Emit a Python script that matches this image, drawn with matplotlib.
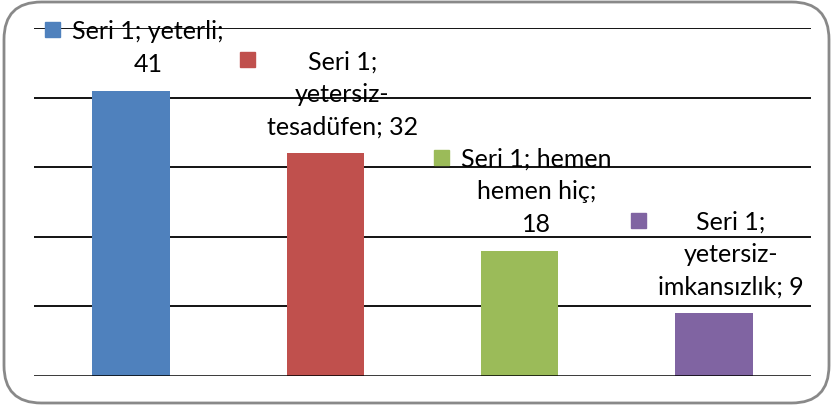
import matplotlib
matplotlib.use('Agg')
import matplotlib.pyplot as plt
from matplotlib.patches import FancyBboxPatch, Rectangle

series_name = 'Seri 1'
categories = ['yeterli', 'yetersiz-\ntesadüfen', 'hemen\nhemen hiç', 'yetersiz-\nimkansızlık']
values = [41, 32, 18, 9]
colors = ['#4F81BD', '#C0504D', '#9BBB59', '#8064A2']
# how each data label wraps
label_fmt = ['{s}; {c};\n{v}', '{s};\n{c}; {v}', '{s}; {c};\n{v}', '{s};\n{c}; {v}']

plt.rcParams['font.family'] = ['Lato', 'DejaVu Sans']

W, H = 831, 408
fig = plt.figure(figsize=(W / 100, H / 100), dpi=100)
ax = fig.add_axes([34 / W, 32 / H, 777 / W, 348 / H])

x = range(len(values))
ax.bar(x, values, width=0.4, color=colors, zorder=3)

ax.set_xlim(-0.5, 3.5)
ax.set_ylim(0, 50)
for y in range(10, 51, 10):
    ax.axhline(y, color='black', lw=1.3, zorder=2)
ax.axhline(0, color='black', lw=1.8, zorder=4)
for s in ax.spines.values():
    s.set_visible(False)
ax.set_xticks([])
ax.set_yticks([])

texts = []
for i, v in enumerate(values):
    txt = label_fmt[i].format(s=series_name, c=categories[i], v=v)
    t = ax.annotate(txt, xy=(i, v), xytext=(17, 15), textcoords='offset pixels',
                    ha='center', va='bottom', multialignment='center',
                    fontsize=18, linespacing=1.5, color='black', zorder=5)
    texts.append(t)

# legend key squares left of each label
fig.canvas.draw()
r = fig.canvas.get_renderer()
for t, c in zip(texts, colors):
    bb = t.get_window_extent(r)
    n = t.get_text().count('\n') + 1
    line_h = bb.height / n
    cy = bb.y1 - line_h / 2 + 5
    fig.add_artist(Rectangle(((bb.x0 - 27) / W, (cy - 7.5) / H), 15 / W, 15 / H,
                             transform=fig.transFigure, color=c))

fig.add_artist(FancyBboxPatch((4 / W, 5 / H), 825 / W, 401 / H,
                              boxstyle='round,pad=0,rounding_size=0.045',
                              transform=fig.transFigure, fill=False,
                              ec='#898989', lw=2, mutation_aspect=W / H))

fig.savefig('out.png', dpi=100)
